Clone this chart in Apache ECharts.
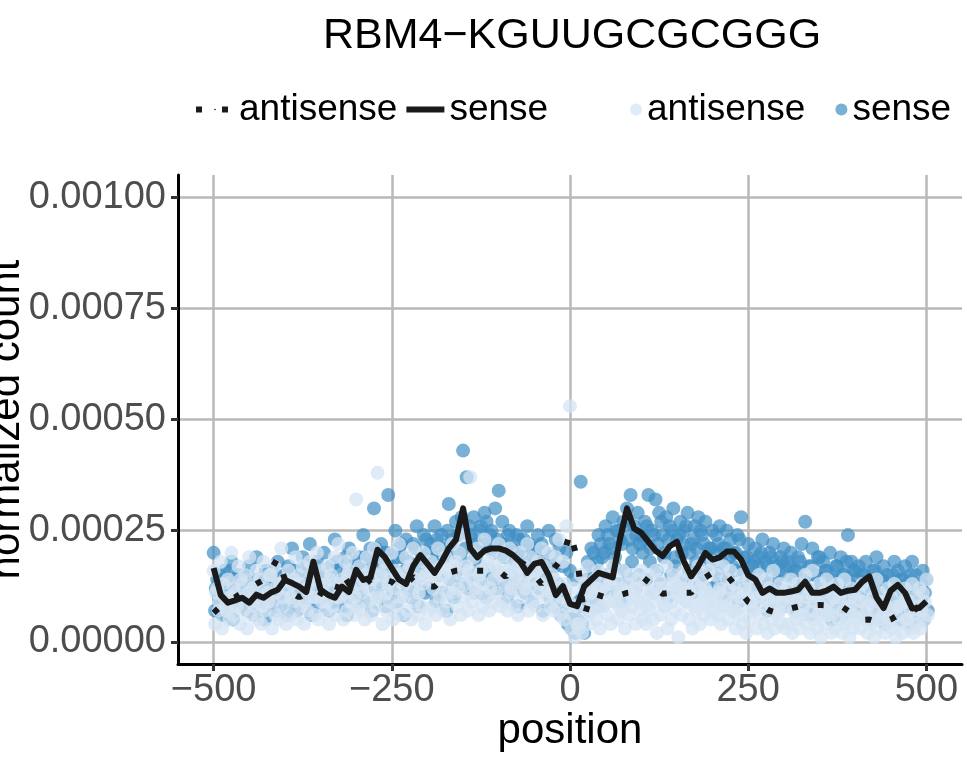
<!DOCTYPE html>
<html>
<head>
<meta charset="utf-8">
<script src="https://cdn.jsdelivr.net/npm/echarts@6/dist/echarts.min.js"></script>
<style>
  html, body { margin: 0; padding: 0; background: #fff; }
  #chart { width: 967px; height: 759px; }
</style>
</head>
<body>
<div id="chart"></div>
<script>
// values are in units of 1e-5 (normalized count)
const xTicks = [-500, -250, 0, 250, 500];
const yTicks = [0, 0.00025, 0.0005, 0.00075, 0.001];

// binned lines, one value every 10 positions from -500 to 500
const senseLine = [16.6, 10.5, 8.8, 9.3, 9.9, 8.8, 10.6, 9.9, 11, 11.7,
  13.9, 13.2, 12.4, 11.2, 18, 11.7, 10.6, 9.9, 12.4, 11.2,
  16.2, 13.9, 14.4, 20.7, 19.1, 16.5, 14, 13, 17, 19.5,
  17.5, 15.5, 18, 21, 23, 30, 21, 19, 20.5, 21,
  21, 20.5, 19.5, 18, 15.5, 17.5, 18, 15, 10.5, 12.5,
  8.5, 8, 12.5, 14, 15.5, 15, 14.5, 23, 30, 25.5,
  24.5, 22.5, 20.5, 19.3, 21.5, 22.5, 18, 14.7, 17, 20,
  18.5, 19, 20.3, 20.3, 18.5, 15, 14, 11, 12, 11,
  11, 11.3, 11.7, 13.5, 11, 11, 11.5, 12.4, 11, 11.5,
  11.7, 13.5, 14.7, 10, 7.6, 11.5, 12.8, 11, 7.5, 7.6, 9.1];
const antisenseLine = [6.5, 8, 9.5, 10, 11, 12, 13, 13.9, 16, 18.9,
  14, 11, 10, 11, 12, 11, 10, 9.9, 15.5, 13,
  12, 12.5, 14, 13, 14, 13.5, 12, 13, 14.6, 13.5,
  12.5, 12.4, 14, 15.5, 16, 16.2, 16, 16, 16, 16,
  16, 14.6, 17, 18, 17, 15, 13, 15, 17, 19,
  24.5, 18.9, 5.6, 11, 10.5, 10, 9.9, 10.5, 11, 11.2,
  12.5, 14.4, 12, 10.8, 11, 11, 11, 11, 13.3, 14.5,
  15.5, 15.3, 15, 13, 11, 9, 8.1, 8, 7, 6.5,
  7, 7.5, 7.9, 8, 8.2, 8.3, 8.2, 8.1, 8.1, 7,
  6, 4.9, 5, 4.5, 4.3, 5, 6, 6.5, 6.7, 8, 9];

// points, three readings every 5 positions from -500 to 500
const senseA = [20, 14, 9, 16, 12, 18, 11, 15, 13, 8, 17, 12, 19, 10, 14, 16, 11, 13, 18, 9, 15,
  17, 21, 13, 16, 19, 12, 22, 15, 18, 14, 20, 11, 17, 23, 16, 13, 19, 21, 15, 18,
  19, 24, 16, 21, 30, 18, 22, 20, 33, 17, 25, 21, 19, 23, 16, 22, 26, 18, 24, 20,
  22, 26, 19, 24, 21, 31, 23, 27, 20, 43, 37, 24, 28, 22, 26, 29, 21, 25, 30, 34,
  27, 22, 25, 20, 24, 19, 23, 26, 21, 18, 24, 22, 20, 25, 19, 23, 21, 17, 20, 16,
  14, 5, 36, 2, 18, 21, 16, 24, 19, 26, 22, 28, 25, 23, 27, 30, 33, 26, 29, 24,
  27, 33, 25, 32, 29, 24, 28, 26, 30, 23, 27, 25, 29, 22, 26, 28, 24, 27, 21, 25,
  24, 26, 21, 25, 23, 20, 24, 28, 19, 22, 17, 21, 19, 23, 18, 20, 22, 17, 19, 21,
  18, 20, 16, 19, 22, 27, 17, 21, 15, 19, 18, 16, 20, 14, 17, 19, 15, 24, 18, 16,
  17, 15, 18, 13, 16, 19, 14, 17, 15, 12, 18, 16, 14, 17, 13, 18, 15, 12, 16, 14];
const senseB = [7, 10, 6, 12, 8, 5, 11, 9, 13, 7, 10, 6, 9, 12, 5, 8, 11, 7, 10, 13, 6,
  8, 11, 7, 10, 13, 9, 6, 12, 8, 11, 10, 7, 9, 14, 8, 12, 6, 10, 13, 9,
  11, 9, 14, 7, 12, 10, 15, 8, 13, 11, 9, 14, 6, 12, 10, 13, 8, 15, 11, 12,
  12, 9, 15, 11, 7, 14, 10, 16, 13, 18, 12, 15, 11, 17, 14, 10, 16, 13, 12, 15,
  13, 10, 15, 12, 8, 14, 11, 16, 9, 13, 12, 7, 14, 10, 8, 11, 6, 9, 4, 3,
  2, 9, 4, 12, 7, 10, 14, 8, 12, 15, 11, 17, 13, 9, 16, 14, 18, 12, 15, 20,
  14, 18, 11, 16, 13, 19, 10, 15, 17, 12, 20, 14, 16, 11, 18, 13, 15, 19, 12, 16,
  13, 15, 10, 14, 12, 16, 9, 13, 11, 14, 8, 12, 10, 13, 7, 11, 9, 12, 10, 8,
  9, 11, 7, 10, 12, 8, 6, 11, 9, 13, 7, 10, 5, 8, 11, 6, 9, 12, 7, 10,
  8, 6, 10, 5, 9, 7, 11, 4, 8, 6, 9, 5, 10, 7, 4, 8, 6, 9, 5, 7];
const senseC = [12, 15, 10, 13, 16, 11, 14, 9, 12, 15, 13, 10, 14, 11, 16, 12, 9, 15, 13, 11,
  14, 12, 16, 10, 15, 13, 17, 11, 14, 16, 12, 15, 10, 13, 18, 14, 11, 16, 12, 15,
  17, 14, 19, 15, 18, 21, 16, 13, 20, 17, 15, 19, 22, 16, 18, 14, 21, 17, 19, 23,
  20, 18, 23, 21, 19, 25, 22, 20, 24, 28, 21, 26, 23, 19, 25, 22, 27, 24, 20, 23,
  22, 19, 24, 21, 18, 23, 20, 17, 22, 19, 21, 16, 20, 18, 15, 17, 13, 12, 9, 6,
  5, 3, 8, 10, 14, 17, 20, 18, 22, 20, 24, 21, 19, 25, 22, 26, 23, 21, 24, 22,
  23, 26, 21, 24, 22, 27, 20, 23, 25, 19, 24, 22, 26, 20, 23, 21, 25, 22, 18, 21,
  20, 22, 18, 21, 19, 17, 20, 23, 16, 19, 15, 18, 17, 20, 15, 17, 19, 14, 16, 18,
  15, 17, 13, 16, 18, 14, 12, 17, 15, 19, 13, 16, 11, 14, 17, 12, 15, 18, 13, 16,
  14, 12, 15, 10, 13, 16, 11, 14, 12, 9, 15, 13, 11, 14, 10, 15, 12, 9, 13, 11];
const antiA = [16, 12, 18, 10, 14, 20, 11, 17, 13, 15, 19, 12, 16, 14, 18, 11, 15, 17, 13, 21, 14,
  16, 13, 19, 15, 17, 12, 18, 14, 20, 16, 13, 17, 15, 19, 22, 14, 18, 16, 20, 32,
  17, 14, 19, 16, 21, 38, 15, 18, 13, 20, 16, 22, 14, 19, 17, 21, 15, 18, 20, 16,
  18, 15, 21, 17, 19, 16, 22, 18, 20, 24, 17, 37, 19, 21, 16, 23, 18, 20, 17, 22,
  19, 16, 21, 18, 15, 20, 17, 22, 19, 16, 18, 21, 17, 20, 15, 19, 23, 18, 26, 53,
  12, 4, 15, 13, 17, 11, 14, 16, 12, 15, 13, 17, 14, 11, 16, 13, 15, 12, 14, 16,
  13, 15, 11, 16, 14, 12, 17, 13, 15, 11, 14, 16, 12, 15, 13, 17, 14, 12, 16, 18,
  15, 12, 17, 14, 16, 13, 11, 15, 12, 14, 10, 13, 15, 11, 14, 12, 16, 10, 13, 11,
  12, 14, 10, 13, 11, 15, 12, 16, 10, 13, 11, 14, 12, 10, 13, 11, 14, 9, 12, 10,
  11, 13, 9, 12, 10, 14, 11, 9, 12, 10, 13, 8, 11, 12, 9, 13, 10, 12, 11, 14];
const antiB = [4, 7, 3, 8, 5, 6, 9, 4, 7, 3, 6, 8, 5, 4, 7, 9, 3, 6, 5, 8, 4,
  6, 9, 5, 8, 4, 7, 10, 6, 5, 9, 7, 4, 8, 6, 10, 5, 7, 9, 6, 8,
  7, 5, 9, 6, 8, 10, 4, 7, 9, 5, 8, 6, 10, 7, 5, 9, 6, 8, 4, 7,
  8, 6, 10, 7, 9, 5, 11, 8, 6, 10, 7, 9, 12, 6, 8, 10, 7, 9, 11, 8,
  9, 7, 11, 8, 6, 10, 12, 7, 9, 8, 11, 6, 10, 8, 7, 9, 6, 5, 8, 3,
  1, 3, 2, 6, 4, 7, 5, 3, 8, 6, 4, 9, 5, 7, 3, 6, 8, 4, 7, 5,
  4, 7, 5, 2, 6, 8, 3, 5, 7, 1, 6, 9, 5, 3, 7, 4, 6, 8, 5, 7,
  6, 4, 8, 5, 7, 3, 6, 4, 2, 5, 7, 3, 6, 4, 2, 5, 3, 6, 4, 3,
  4, 2, 5, 3, 6, 4, 2, 5, 3, 1, 4, 6, 2, 3, 5, 2, 4, 1, 3, 5,
  3, 5, 2, 4, 1, 3, 5, 2, 4, 3, 1, 4, 2, 5, 3, 2, 4, 3, 5, 6];
const antiC = [11, 9, 13, 7, 10, 12, 8, 14, 10, 11, 9, 13, 10, 8, 12, 15, 9, 11, 13, 10,
  12, 10, 14, 11, 13, 9, 12, 15, 10, 13, 11, 9, 14, 12, 10, 13, 11, 15, 12, 10,
  13, 11, 15, 12, 14, 10, 13, 16, 11, 14, 12, 15, 10, 13, 16, 12, 14, 11, 13, 15,
  14, 12, 16, 13, 15, 11, 14, 17, 12, 15, 13, 16, 14, 11, 15, 13, 17, 12, 14, 16,
  15, 13, 16, 12, 14, 17, 13, 15, 12, 14, 16, 13, 15, 12, 11, 14, 12, 10, 13, 9,
  6, 8, 4, 9, 11, 7, 10, 12, 8, 11, 9, 13, 10, 8, 12, 9, 11, 10, 12, 9,
  10, 8, 11, 9, 12, 10, 8, 11, 9, 13, 10, 12, 9, 11, 8, 10, 12, 9, 11, 10,
  9, 11, 8, 10, 12, 9, 7, 10, 8, 11, 9, 7, 10, 8, 11, 9, 8, 10, 7, 9,
  8, 10, 7, 9, 6, 8, 10, 7, 9, 6, 8, 7, 9, 6, 8, 10, 7, 5, 8, 6,
  7, 9, 6, 8, 5, 7, 9, 6, 8, 5, 7, 6, 8, 9, 5, 7, 6, 8, 7, 9];

const UNIT = 1e-5;
const FONT = "'Liberation Sans', Arial, sans-serif";

function linePoints(vals) {
  return vals.map((v, i) => [-500 + 10 * i, v * UNIT]);
}
function scatterPoints(a, b, c) {
  const out = [];
  a.forEach((v, j) => out.push([-500 + 5 * j, v * UNIT]));
  b.forEach((v, j) => out.push([-500 + 5 * j + 2, v * UNIT]));
  c.forEach((v, j) => out.push([-500 + 5 * j + 3, v * UNIT]));
  return out;
}
function fmtX(v) {
  return v < 0 ? "\u2212" + Math.abs(v) : String(v);
}

const chart = echarts.init(document.getElementById("chart"));
chart.setOption({
  animation: false,
  title: {
    text: "RBM4\u2212KGUUGCGCGGG",
    left: 318,
    top: 10,
    textStyle: { fontFamily: FONT, fontSize: 43, fontWeight: "normal", color: "#000" }
  },
  legend: [
    {
      data: ["antisense", "sense"],
      left: 188,
      top: 86,
      itemWidth: 38,
      itemHeight: 2,
      itemGap: 6,
      lineStyle: { width: 6, cap: "butt" },
      textStyle: { fontFamily: FONT, fontSize: 37, color: "#000" }
    },
    {
      data: ["antisense_pt", "sense_pt"],
      left: 625,
      top: 86,
      icon: "circle",
      itemWidth: 12,
      itemHeight: 12,
      itemGap: 30,
      formatter: (name) => name.replace("_pt", ""),
      textStyle: { fontFamily: FONT, fontSize: 37, color: "#000" }
    }
  ],
  grid: { left: 178, right: 5, top: 175, bottom: 95, outerBoundsMode: "none", containLabel: false },
  xAxis: {
    type: "value",
    min: -550,
    max: 550,
    name: "position",
    nameLocation: "middle",
    nameGap: 46,
    nameMoveOverlap: false,
    nameTextStyle: { fontFamily: FONT, fontSize: 42, color: "#000" },
    axisLine: { onZero: false, lineStyle: { color: "#000", width: 3 } },
    axisTick: { customValues: xTicks, length: 7, lineStyle: { color: "#333", width: 3 } },
    axisLabel: { customValues: xTicks, formatter: fmtX, margin: 8, fontFamily: FONT, fontSize: 38, color: "#4d4d4d" },
    splitLine: { show: true, lineStyle: { color: "#b8b8b8", width: 2.5 } }
  },
  yAxis: {
    type: "value",
    min: -0.00005,
    max: 0.00105,
    name: "normalized count",
    nameLocation: "middle",
    nameRotate: 90,
    nameGap: 150,
    nameMoveOverlap: false,
    nameTextStyle: { fontFamily: FONT, fontSize: 42, color: "#000" },
    axisLine: { show: true, onZero: false, lineStyle: { color: "#000", width: 3 } },
    axisTick: { show: true, customValues: yTicks, length: 7, lineStyle: { color: "#333", width: 3 } },
    axisLabel: { customValues: yTicks, formatter: (v) => v.toFixed(5), margin: 12, fontFamily: FONT, fontSize: 38, color: "#4d4d4d" },
    splitLine: { show: true, lineStyle: { color: "#b8b8b8", width: 2.5 } }
  },
  series: [
    {
      name: "sense_pt",
      type: "scatter",
      symbolSize: 14,
      data: scatterPoints(senseA, senseB, senseC),
      itemStyle: { color: "#3e8ec4", opacity: 0.7 }
    },
    {
      name: "antisense_pt",
      type: "scatter",
      symbolSize: 14,
      data: scatterPoints(antiA, antiB, antiC),
      itemStyle: { color: "#d4e4f3", opacity: 0.75 }
    },
    {
      name: "antisense",
      type: "line",
      symbol: "none",
      data: linePoints(antisenseLine),
      lineStyle: { color: "#1a1a1a", width: 6, type: [6, 20], cap: "butt" },
      itemStyle: { color: "#1a1a1a" }
    },
    {
      name: "sense",
      type: "line",
      symbol: "none",
      data: linePoints(senseLine),
      lineStyle: { color: "#1a1a1a", width: 6, join: "round" },
      itemStyle: { color: "#1a1a1a" }
    }
  ]
});
</script>
</body>
</html>
